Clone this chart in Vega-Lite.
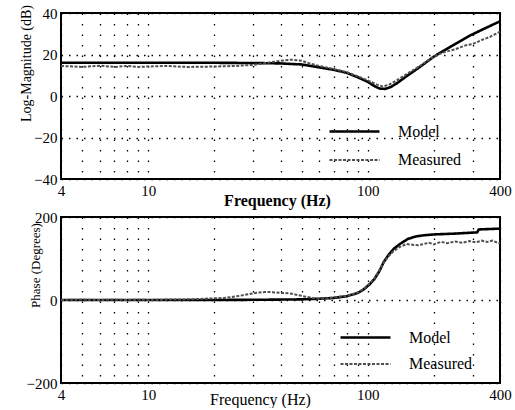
{
  "$schema": "https://vega.github.io/schema/vega-lite/v6.json",
  "background": "white",
  "padding": {"left": 17, "top": 3, "right": 0, "bottom": 0},
  "spacing": 0,
  "config": {
    "font": "Liberation Serif",
    "view": {"stroke": "black", "strokeWidth": 2},
    "axis": {
      "labelFont": "Liberation Serif",
      "labelFontSize": 15,
      "labelColor": "black",
      "titleFont": "Liberation Serif",
      "titleColor": "black",
      "titleFontWeight": "normal",
      "domain": false,
      "ticks": false,
      "grid": true,
      "gridColor": "black",
      "gridOpacity": 1,
      "gridWidth": 1.3,
      "labelPadding": 4,
      "labelOverlap": false,
      "labelFlush": false
    },
    "legend": {
      "orient": "none",
      "title": null,
      "symbolType": "M-2.5,0H2.5",
      "symbolSize": 400,
      "labelFont": "Liberation Serif",
      "labelFontSize": 16,
      "labelColor": "black",
      "labelOffset": 32,
      "padding": 0
    }
  },
  "datasets": {
    "mag": [
      {"f": 4, "dB": 16, "series": "Model"},
      {"f": 6, "dB": 16, "series": "Model"},
      {"f": 10, "dB": 16, "series": "Model"},
      {"f": 15, "dB": 16, "series": "Model"},
      {"f": 20, "dB": 16, "series": "Model"},
      {"f": 30, "dB": 15.9, "series": "Model"},
      {"f": 40, "dB": 15.7, "series": "Model"},
      {"f": 50, "dB": 15.2, "series": "Model"},
      {"f": 60, "dB": 13.8, "series": "Model"},
      {"f": 70, "dB": 12.6, "series": "Model"},
      {"f": 80, "dB": 11.2, "series": "Model"},
      {"f": 90, "dB": 9, "series": "Model"},
      {"f": 100, "dB": 6.8, "series": "Model"},
      {"f": 107, "dB": 4.8, "series": "Model"},
      {"f": 113, "dB": 3.6, "series": "Model"},
      {"f": 120, "dB": 3.4, "series": "Model"},
      {"f": 127, "dB": 4.3, "series": "Model"},
      {"f": 135, "dB": 6, "series": "Model"},
      {"f": 150, "dB": 9.5, "series": "Model"},
      {"f": 170, "dB": 13.5, "series": "Model"},
      {"f": 200, "dB": 19, "series": "Model"},
      {"f": 240, "dB": 24, "series": "Model"},
      {"f": 290, "dB": 29, "series": "Model"},
      {"f": 340, "dB": 32.5, "series": "Model"},
      {"f": 400, "dB": 36, "series": "Model"},
      {"f": 4, "dB": 14.5, "series": "Measured"},
      {"f": 5, "dB": 14, "series": "Measured"},
      {"f": 6, "dB": 14.6, "series": "Measured"},
      {"f": 7, "dB": 14, "series": "Measured"},
      {"f": 8, "dB": 14.5, "series": "Measured"},
      {"f": 9, "dB": 14, "series": "Measured"},
      {"f": 10, "dB": 14.2, "series": "Measured"},
      {"f": 12, "dB": 14.5, "series": "Measured"},
      {"f": 15, "dB": 14, "series": "Measured"},
      {"f": 20, "dB": 14.2, "series": "Measured"},
      {"f": 25, "dB": 14.5, "series": "Measured"},
      {"f": 30, "dB": 15, "series": "Measured"},
      {"f": 35, "dB": 16, "series": "Measured"},
      {"f": 40, "dB": 17, "series": "Measured"},
      {"f": 45, "dB": 17.5, "series": "Measured"},
      {"f": 50, "dB": 17, "series": "Measured"},
      {"f": 55, "dB": 15.5, "series": "Measured"},
      {"f": 60, "dB": 14.5, "series": "Measured"},
      {"f": 70, "dB": 13, "series": "Measured"},
      {"f": 80, "dB": 11.5, "series": "Measured"},
      {"f": 90, "dB": 9.5, "series": "Measured"},
      {"f": 100, "dB": 7.5, "series": "Measured"},
      {"f": 110, "dB": 5.5, "series": "Measured"},
      {"f": 117, "dB": 4.6, "series": "Measured"},
      {"f": 125, "dB": 5.5, "series": "Measured"},
      {"f": 135, "dB": 7.5, "series": "Measured"},
      {"f": 150, "dB": 10.5, "series": "Measured"},
      {"f": 170, "dB": 14, "series": "Measured"},
      {"f": 200, "dB": 19, "series": "Measured"},
      {"f": 220, "dB": 21, "series": "Measured"},
      {"f": 250, "dB": 22.5, "series": "Measured"},
      {"f": 280, "dB": 24.5, "series": "Measured"},
      {"f": 300, "dB": 25, "series": "Measured"},
      {"f": 330, "dB": 27, "series": "Measured"},
      {"f": 360, "dB": 28.5, "series": "Measured"},
      {"f": 400, "dB": 31, "series": "Measured"}
    ],
    "phase": [
      {"f": 4, "deg": 0, "series": "Model"},
      {"f": 10, "deg": 0, "series": "Model"},
      {"f": 20, "deg": 0, "series": "Model"},
      {"f": 30, "deg": 0.5, "series": "Model"},
      {"f": 40, "deg": 1, "series": "Model"},
      {"f": 50, "deg": 1.5, "series": "Model"},
      {"f": 60, "deg": 3, "series": "Model"},
      {"f": 70, "deg": 5, "series": "Model"},
      {"f": 80, "deg": 9, "series": "Model"},
      {"f": 90, "deg": 17, "series": "Model"},
      {"f": 96, "deg": 26, "series": "Model"},
      {"f": 102, "deg": 38, "series": "Model"},
      {"f": 107, "deg": 50, "series": "Model"},
      {"f": 113, "deg": 70, "series": "Model"},
      {"f": 118, "deg": 91, "series": "Model"},
      {"f": 124, "deg": 108, "series": "Model"},
      {"f": 131, "deg": 123, "series": "Model"},
      {"f": 140, "deg": 135, "series": "Model"},
      {"f": 152, "deg": 147, "series": "Model"},
      {"f": 165, "deg": 153, "series": "Model"},
      {"f": 180, "deg": 156, "series": "Model"},
      {"f": 200, "deg": 158, "series": "Model"},
      {"f": 250, "deg": 160, "series": "Model"},
      {"f": 315, "deg": 163, "series": "Model"},
      {"f": 320, "deg": 170, "series": "Model"},
      {"f": 400, "deg": 172, "series": "Model"},
      {"f": 4, "deg": 0, "series": "Measured"},
      {"f": 5, "deg": 1, "series": "Measured"},
      {"f": 6, "deg": 0, "series": "Measured"},
      {"f": 7, "deg": 1, "series": "Measured"},
      {"f": 8, "deg": 0, "series": "Measured"},
      {"f": 9, "deg": 1, "series": "Measured"},
      {"f": 10, "deg": 0, "series": "Measured"},
      {"f": 12, "deg": 1, "series": "Measured"},
      {"f": 14, "deg": 1, "series": "Measured"},
      {"f": 16, "deg": 2, "series": "Measured"},
      {"f": 18, "deg": 3, "series": "Measured"},
      {"f": 20, "deg": 4, "series": "Measured"},
      {"f": 22, "deg": 5, "series": "Measured"},
      {"f": 24, "deg": 7, "series": "Measured"},
      {"f": 26, "deg": 10, "series": "Measured"},
      {"f": 28, "deg": 13, "series": "Measured"},
      {"f": 30, "deg": 16, "series": "Measured"},
      {"f": 32, "deg": 18, "series": "Measured"},
      {"f": 34, "deg": 19, "series": "Measured"},
      {"f": 36, "deg": 19, "series": "Measured"},
      {"f": 38, "deg": 18, "series": "Measured"},
      {"f": 40, "deg": 17, "series": "Measured"},
      {"f": 42, "deg": 17, "series": "Measured"},
      {"f": 45, "deg": 15, "series": "Measured"},
      {"f": 48, "deg": 12, "series": "Measured"},
      {"f": 52, "deg": 8, "series": "Measured"},
      {"f": 56, "deg": 5, "series": "Measured"},
      {"f": 60, "deg": 3, "series": "Measured"},
      {"f": 65, "deg": 4, "series": "Measured"},
      {"f": 70, "deg": 6, "series": "Measured"},
      {"f": 80, "deg": 10, "series": "Measured"},
      {"f": 90, "deg": 18, "series": "Measured"},
      {"f": 96, "deg": 27, "series": "Measured"},
      {"f": 102, "deg": 40, "series": "Measured"},
      {"f": 107, "deg": 52, "series": "Measured"},
      {"f": 113, "deg": 72, "series": "Measured"},
      {"f": 118, "deg": 90, "series": "Measured"},
      {"f": 124, "deg": 105, "series": "Measured"},
      {"f": 131, "deg": 118, "series": "Measured"},
      {"f": 140, "deg": 128, "series": "Measured"},
      {"f": 150, "deg": 135, "series": "Measured"},
      {"f": 160, "deg": 133, "series": "Measured"},
      {"f": 170, "deg": 132, "series": "Measured"},
      {"f": 180, "deg": 135, "series": "Measured"},
      {"f": 190, "deg": 138, "series": "Measured"},
      {"f": 200, "deg": 134, "series": "Measured"},
      {"f": 215, "deg": 140, "series": "Measured"},
      {"f": 230, "deg": 137, "series": "Measured"},
      {"f": 250, "deg": 141, "series": "Measured"},
      {"f": 270, "deg": 138, "series": "Measured"},
      {"f": 290, "deg": 142, "series": "Measured"},
      {"f": 310, "deg": 139, "series": "Measured"},
      {"f": 330, "deg": 143, "series": "Measured"},
      {"f": 350, "deg": 140, "series": "Measured"},
      {"f": 370, "deg": 143, "series": "Measured"},
      {"f": 390, "deg": 138, "series": "Measured"},
      {"f": 400, "deg": 136, "series": "Measured"}
    ]
  },
  "vconcat": [
    {
      "width": 439,
      "height": 166,
      "data": {"name": "mag"},
      "mark": {"type": "line", "interpolate": "linear"},
      "encoding": {
        "x": {
          "field": "f",
          "type": "quantitative",
          "scale": {"type": "log", "domain": [4, 400]},
          "axis": {
            "values": [4, 5, 6, 7, 8, 9, 10, 20, 30, 40, 50, 60, 70, 80, 90, 100, 200, 300, 400],
            "labelExpr": "datum.value == 4 || datum.value == 10 || datum.value == 100 || datum.value == 400 ? datum.value : ''",
            "gridDash": [1.5, 9],
            "title": "Frequency (Hz)",
            "titleFontSize": 16,
            "titleFontWeight": "bold",
            "titleX": 216,
            "titleY": 21,
            "titleBaseline": "middle"
          }
        },
        "y": {
          "field": "dB",
          "type": "quantitative",
          "scale": {"domain": [-40, 40]},
          "axis": {
            "values": [-40, -20, 0, 20, 40],
            "gridDash": [1.5, 6],
            "title": "Log-Magnitude (dB)",
            "titleFontSize": 14,
            "titleX": -35,
            "titleY": 50,
            "titleBaseline": "middle"
          }
        },
        "color": {
          "field": "series",
          "type": "nominal",
          "scale": {"domain": ["Model", "Measured"], "range": ["black", "#505050"]},
          "legend": {"legendX": 282, "legendY": 107, "rowPadding": 9}
        },
        "strokeDash": {
          "field": "series",
          "type": "nominal",
          "scale": {"domain": ["Model", "Measured"], "range": [[1, 0], [3, 1.5]]},
          "legend": {"legendX": 282, "legendY": 107, "rowPadding": 9}
        },
        "strokeWidth": {
          "field": "series",
          "type": "nominal",
          "scale": {"domain": ["Model", "Measured"], "range": [2.6, 2]},
          "legend": {"legendX": 282, "legendY": 107, "rowPadding": 9}
        }
      }
    },
    {
      "width": 439,
      "height": 166,
      "data": {"name": "phase"},
      "mark": {"type": "line", "interpolate": "linear"},
      "encoding": {
        "x": {
          "field": "f",
          "type": "quantitative",
          "scale": {"type": "log", "domain": [4, 400]},
          "axis": {
            "values": [4, 5, 6, 7, 8, 9, 10, 20, 30, 40, 50, 60, 70, 80, 90, 100, 200, 300, 400],
            "labelExpr": "datum.value == 4 || datum.value == 10 || datum.value == 100 || datum.value == 400 ? datum.value : ''",
            "gridDash": [1.5, 9],
            "title": "Frequency (Hz)",
            "titleFontSize": 16,
            "titleX": 199,
            "titleY": 16,
            "titleBaseline": "middle"
          }
        },
        "y": {
          "field": "deg",
          "type": "quantitative",
          "scale": {"domain": [-200, 200]},
          "axis": {
            "values": [-200, 0, 200],
            "gridDash": [1.5, 6],
            "title": "Phase (Degrees)",
            "titleFontSize": 13,
            "titleX": -26,
            "titleY": 48,
            "titleBaseline": "middle"
          }
        },
        "color": {
          "field": "series",
          "type": "nominal",
          "scale": {"domain": ["Model", "Measured"], "range": ["black", "#505050"]},
          "legend": {"legendX": 293, "legendY": 109, "rowPadding": 7}
        },
        "strokeDash": {
          "field": "series",
          "type": "nominal",
          "scale": {"domain": ["Model", "Measured"], "range": [[1, 0], [3, 1.5]]},
          "legend": {"legendX": 293, "legendY": 109, "rowPadding": 7}
        },
        "strokeWidth": {
          "field": "series",
          "type": "nominal",
          "scale": {"domain": ["Model", "Measured"], "range": [2.6, 2]},
          "legend": {"legendX": 293, "legendY": 109, "rowPadding": 7}
        }
      }
    }
  ],
  "resolve": {
    "scale": {"color": "independent", "strokeDash": "independent", "strokeWidth": "independent"},
    "legend": {"color": "independent", "strokeDash": "independent", "strokeWidth": "independent"}
  }
}
